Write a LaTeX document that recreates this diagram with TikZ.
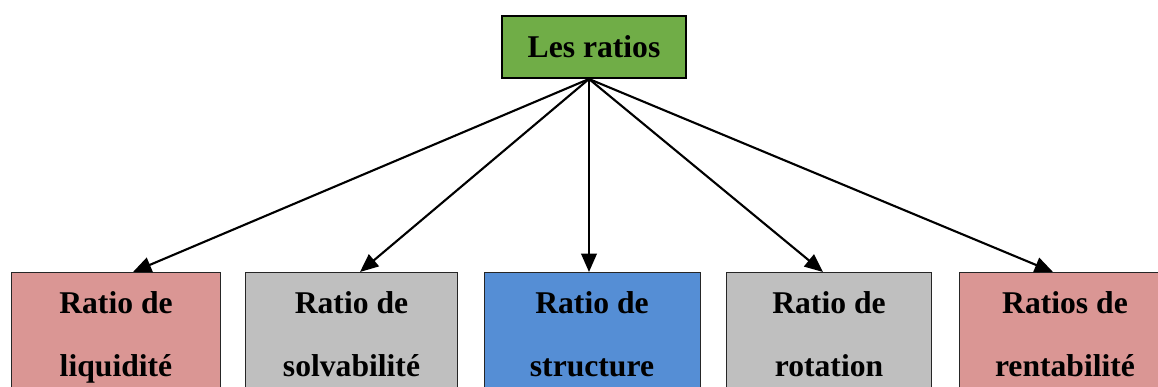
\documentclass[tikz,border=0pt]{standalone}
\usepackage{fontspec}
\setmainfont{Liberation Serif}
\usetikzlibrary{arrows.meta,calc}

\definecolor{ratiogreen}{RGB}{112,173,71}
\definecolor{ratiopink}{RGB}{218,150,148}
\definecolor{ratiogray}{RGB}{191,191,191}
\definecolor{ratioblue}{RGB}{85,142,213}

\begin{document}
\begin{tikzpicture}[x=0.025cm, y=-0.025cm,
    ratiobox/.style={draw=black!85, line width=0.6pt, anchor=north, minimum height=3.25cm,
        inner sep=0pt, align=center, font=\fontsize{22.5}{44.8}\selectfont\bfseries},
    ratioarrow/.style={-{Triangle[length=13pt,width=11pt]}, line width=1.5pt}]

    \useasboundingbox (0,0) rectangle (1158,387);
    \clip (0,0) rectangle (1158,387);

    % Top box
    \node[draw, line width=1.4pt, fill=ratiogreen, minimum width=4.6cm, minimum height=1.55cm,
        font=\fontsize{22.5}{27}\selectfont\bfseries] (ratios) at (594,47) {Les ratios};

    % Ratio families
    \node[ratiobox, fill=ratiopink, minimum width=5.22cm] (liquidite) at (116,272) {Ratio de\\liquidité};
    \node[ratiobox, fill=ratiogray, minimum width=5.29cm] (solvabilite) at (351.5,272) {Ratio de\\solvabilité\vphantom{q}};
    \node[ratiobox, fill=ratioblue, minimum width=5.4cm] (structure) at (592,272) {Ratio de\\structure\vphantom{q}};
    \node[ratiobox, fill=ratiogray, minimum width=5.12cm] (rotation) at (829,272) {Ratio de\\rotation\vphantom{q}};
    \node[ratiobox, fill=ratiopink, minimum width=5.3cm] (rentabilite) at (1065,272) {Ratios de\\rentabilité\vphantom{q}};

    % Arrows
    \foreach \name/\dx in {liquidite/17, solvabilite/8.5, structure/-3, rotation/-6, rentabilite/-12}
        \draw[ratioarrow] ($(ratios.south)+(-5,0)$) -- ($(\name.north)+(\dx,0)$);

\end{tikzpicture}
\end{document}
